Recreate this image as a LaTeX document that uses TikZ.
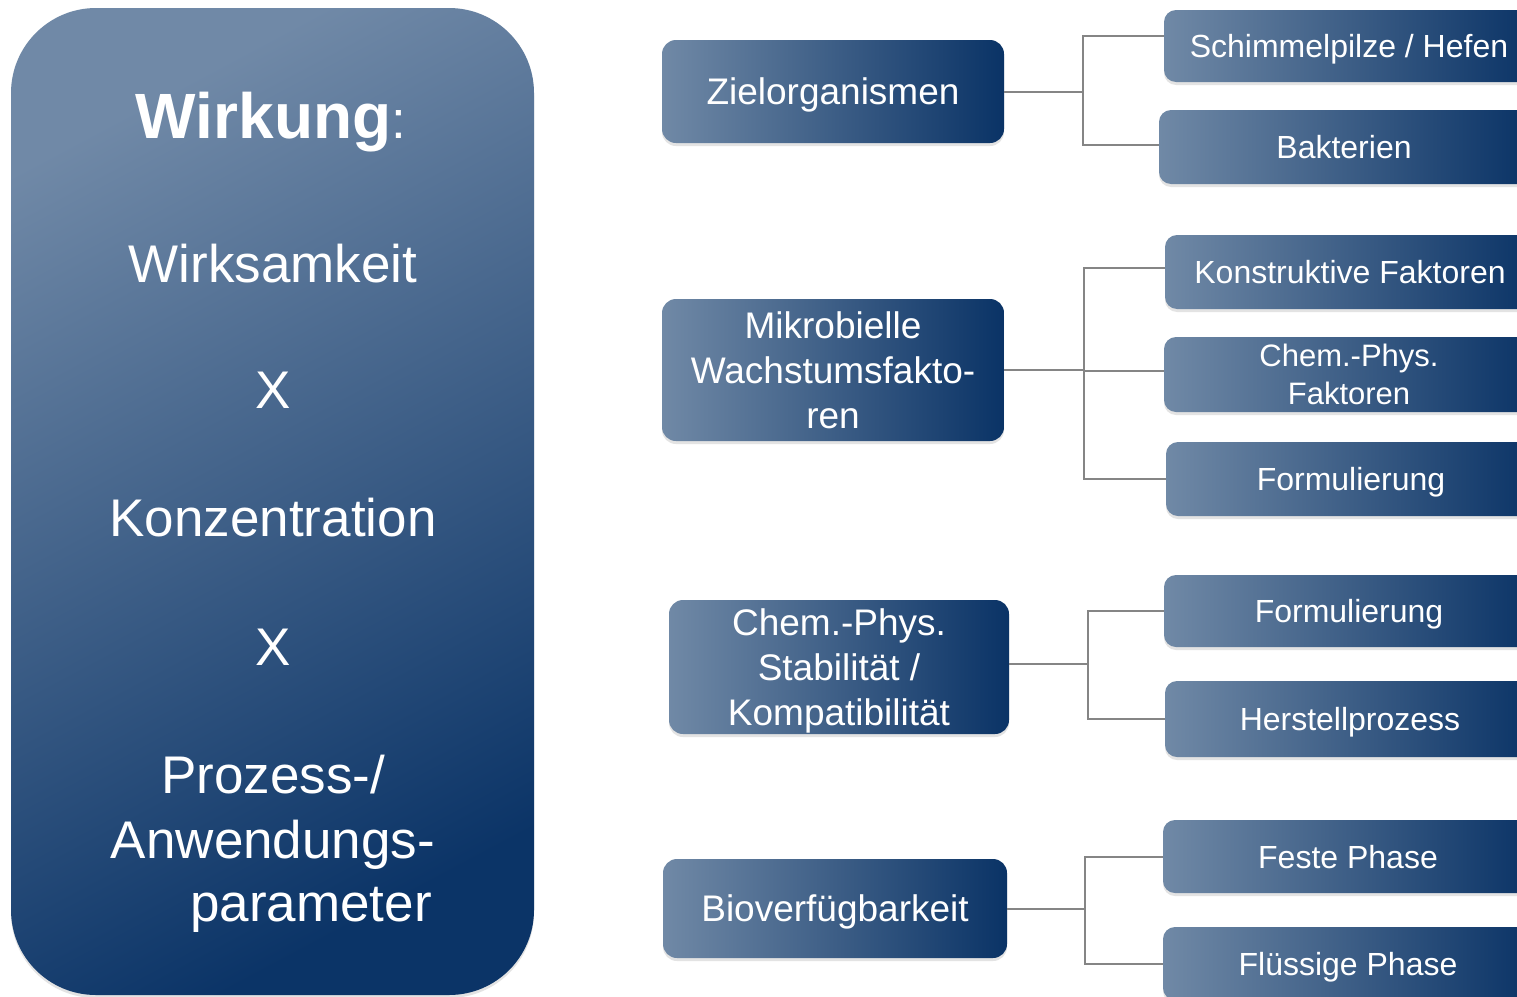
\documentclass[tikz,border=0pt]{standalone}
\usepackage{fontspec}
\setmainfont{Liberation Sans}
\usetikzlibrary{shadows}
\definecolor{boxL}{HTML}{7089A6}
\definecolor{boxR}{HTML}{0A3366}
\definecolor{bigL}{HTML}{7089A7}
\definecolor{bigR}{HTML}{0B3467}
\definecolor{connGray}{HTML}{858585}
\tikzset{
  boxshadow/.style={drop shadow={shadow xshift=0pt, shadow yshift=-3pt, opacity=0.18, fill=black!60}},
  midbox/.style={rounded corners=14pt, left color=boxL, right color=boxR, text=white,
    align=center, inner sep=0pt, font=\fontsize{37}{45}\selectfont, boxshadow},
  subbox/.style={rounded corners=12pt, left color=boxL, right color=boxR, text=white,
    align=center, inner sep=0pt, minimum width=370pt, font=\fontsize{32}{38}\selectfont, boxshadow},
  midone/.style={text height=26.5pt, text depth=0pt},
  subone/.style={text height=23pt, text depth=0pt},
  bigbox/.style={rounded corners=85pt, top color=bigL, bottom color=bigR, shading angle=28, boxshadow},
  bigtext/.style={text=white, font=\fontsize{53}{64}\selectfont, inner sep=0pt, anchor=base},
  conn/.style={draw=connGray, line width=2pt},
}
\begin{document}
\begin{tikzpicture}[x=1pt,y=-1pt]
\clip (0,0) rectangle (1517,996);
\fill[white] (0,0) rectangle (1517,996);
% left box
\node[bigbox, minimum width=523pt, minimum height=987pt] (L) at (272.5,501.5) {};
\node[bigtext, font=\fontsize{64}{70}\selectfont\bfseries] (w0) at (271,138) {Wirkung\mdseries\fontsize{53}{64}\selectfont:};
\node[bigtext] (w1) at (273,282) {Wirksamkeit};
\node[bigtext] (x1) at (273,408) {X};
\node[bigtext] (w2) at (273,536) {Konzentration};
\node[bigtext] (x2) at (273,665) {X};
\node[bigtext] (w3a) at (273,793) {Prozess-/};
\node[bigtext] (w3b) at (273,858) {Anwendungs-};
\node[bigtext] (w3c) at (311,921) {parameter};
% middle column
\node[midbox, midone, minimum width=342pt, minimum height=103pt] (m1) at (833,91.5) {Zielorganismen};
\node[midbox, minimum width=342pt, minimum height=142pt] (m2) at (833,370) {Mikrobielle\\Wachstumsfakto-\\ren};
\node[midbox, text depth=0pt, minimum width=340pt, minimum height=134pt] (m3) at (839,667) {Chem.-Phys.\\Stabilität /\\Kompatibilität};
\node[midbox, midone, minimum width=344pt, minimum height=99pt] (m4) at (835,908.5) {Bioverfügbarkeit};
% right column
\node[subbox, subone, minimum height=72pt] (r1) at (1349,46) {Schimmelpilze / Hefen};
\node[subbox, subone, minimum height=74pt] (r2) at (1344,147) {Bakterien};
\node[subbox, subone, minimum height=74pt] (r3) at (1350,272) {Konstruktive Faktoren};
\node[subbox, minimum height=75pt, font=\fontsize{31}{38}\selectfont] (r4) at (1349,374.5) {Chem.-Phys.\\Faktoren};
\node[subbox, subone, minimum height=74pt] (r5) at (1351,479) {Formulierung};
\node[subbox, subone, minimum height=72pt] (r6) at (1349,611) {Formulierung};
\node[subbox, subone, minimum height=76pt] (r7) at (1350,719) {Herstellprozess};
\node[subbox, subone, minimum height=73pt] (r8) at (1348,856.5) {Feste Phase};
\node[subbox, subone, minimum height=73pt] (r9) at (1348,963.5) {Flüssige Phase};
% connectors
\coordinate (j1) at (1083,91.5);
\coordinate (j2) at (1084,370);
\coordinate (j3) at (1088,664);
\coordinate (j4) at (1085,908.5);
\draw[conn] (m1.east) -- (j1);
\draw[conn] ([yshift=10pt]r1.west) -| (j1);
\draw[conn] ([yshift=2pt]r2.west) -| (j1);
\draw[conn] (m2.east) -- (j2);
\draw[conn] ([yshift=4pt]r3.west) -| (j2);
\draw[conn] ([yshift=4pt]r4.west) -| (j2);
\draw[conn] (r5.west) -| (j2);
\draw[conn] ([yshift=3pt]m3.east) -- (j3);
\draw[conn] (r6.west) -| (j3);
\draw[conn] (r7.west) -| (j3);
\draw[conn] (m4.east) -- (j4);
\draw[conn] (r8.west) -| (j4);
\draw[conn] (r9.west) -| (j4);
\end{tikzpicture}
\end{document}
